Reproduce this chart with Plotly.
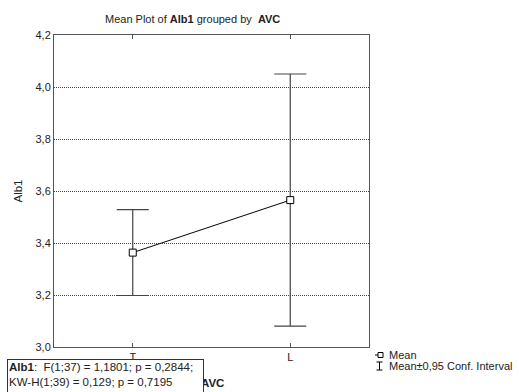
import plotly.graph_objects as go

# Group means of Alb1 by AVC with 95% confidence half-widths
groups = ["T", "L"]
means = [3.363, 3.565]
ci_half = [0.165, 0.485]
y_ticks = [3.0, 3.2, 3.4, 3.6, 3.8, 4.0, 4.2]

W, H = 519, 392
L_M, R_M, T_M, B_M = 54, 150, 35, 45
PW, PH = W - L_M - R_M, H - T_M - B_M


def px(x):
    return (x - L_M) / PW


def py(y):
    return (H - B_M - y) / PH


FONT = "Liberation Sans, Arial, sans-serif"
INK = "#222"

fig = go.Figure()
fig.add_trace(go.Scatter(
    x=[0, 1], y=means,
    mode="lines+markers",
    line=dict(color="black", width=1),
    marker=dict(symbol="square", size=7, color="white",
                line=dict(color="black", width=1)),
    error_y=dict(type="data", array=ci_half, visible=True,
                 color="#444", thickness=1.2, width=16),
    showlegend=False,
))

fig.update_layout(
    width=W, height=H,
    margin=dict(l=L_M, r=R_M, t=T_M, b=B_M),
    paper_bgcolor="white", plot_bgcolor="white",
    separators=", ",
    font=dict(family=FONT, size=11, color=INK),
    showlegend=False,
)

fig.update_xaxes(
    range=[-0.5, 1.5], tickvals=[0, 1], ticktext=groups,
    showline=True, linecolor="#555", linewidth=1, mirror="ticks",
    ticks="inside", ticklen=4, tickcolor="#555",
    showgrid=False, zeroline=False,
    tickfont=dict(size=11, color=INK),
)
fig.update_yaxes(
    range=[3.0, 4.2], tickvals=y_ticks, tickformat=".1f",
    showline=True, linecolor="#555", linewidth=1, mirror=True,
    ticks="", showgrid=True, gridcolor="#444", griddash="1px,1px", gridwidth=1,
    zeroline=False, tickfont=dict(size=11, color=INK),
    title=dict(text="Alb1", font=dict(size=11.5, color=INK), standoff=10),
)

ann = []
# chart title
ann.append(dict(x=px(192), y=py(19), xref="paper", yref="paper",
                text="Mean Plot of <b>Alb1</b> grouped by &nbsp;<b>AVC</b>",
                showarrow=False, font=dict(size=11, color=INK),
                xanchor="center", yanchor="middle"))
# x-axis title
ann.append(dict(x=px(212), y=py(383), xref="paper", yref="paper",
                text="<b>AVC</b>", showarrow=False,
                font=dict(size=11.5, color=INK),
                xanchor="center", yanchor="middle"))
# statistics box
ann.append(dict(x=px(7), y=py(359), xref="paper", yref="paper",
                text="<b>Alb1</b>:&nbsp;&nbsp;F(1;37) = 1,1801; p = 0,2844;<br>"
                     "KW-H(1;39) = 0,129; p = 0,7195",
                showarrow=False, align="left", valign="top",
                xanchor="left", yanchor="top",
                width=193, height=40, borderpad=1,
                bgcolor="white", bordercolor="#333", borderwidth=1,
                font=dict(size=11.5, color=INK)))
# legend labels
ann.append(dict(x=px(387), y=py(355), xref="paper", yref="paper",
                text="Mean", showarrow=False, xanchor="left", yanchor="middle",
                font=dict(size=11, color=INK)))
ann.append(dict(x=px(387), y=py(366), xref="paper", yref="paper",
                text="Mean±0,95 Conf. Interval", showarrow=False,
                xanchor="left", yanchor="middle",
                font=dict(size=11, color=INK)))
fig.update_layout(annotations=ann)

# legend symbols
shapes = [
    dict(type="line", xref="paper", yref="paper",
         x0=px(375), x1=px(378), y0=py(355), y1=py(355),
         line=dict(color="black", width=1)),
    dict(type="rect", xref="paper", yref="paper",
         x0=px(378), x1=px(383), y0=py(357.5), y1=py(352.5),
         line=dict(color="black", width=1), fillcolor="white"),
    dict(type="line", xref="paper", yref="paper",
         x0=px(379.5), x1=px(379.5), y0=py(362), y1=py(370),
         line=dict(color="black", width=1)),
    dict(type="line", xref="paper", yref="paper",
         x0=px(376.5), x1=px(382.5), y0=py(362), y1=py(362),
         line=dict(color="black", width=1)),
    dict(type="line", xref="paper", yref="paper",
         x0=px(376.5), x1=px(382.5), y0=py(370), y1=py(370),
         line=dict(color="black", width=1)),
]
fig.update_layout(shapes=shapes)

fig.write_html("out.html")
